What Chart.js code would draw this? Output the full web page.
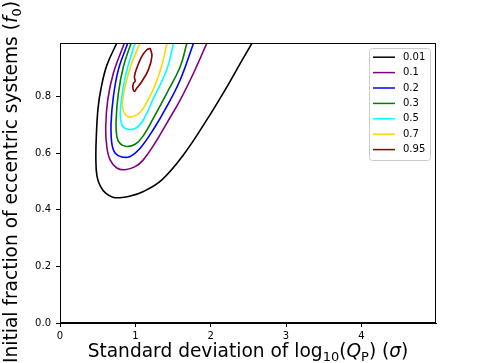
<!DOCTYPE html>
<html>
<head>
<meta charset="utf-8">
<script src="https://cdn.jsdelivr.net/npm/chart.js@4/dist/chart.umd.min.js"></script>
<style>
  html, body { margin: 0; padding: 0; background: #fff; }
</style>
</head>
<body>
<canvas id="chart" width="484" height="363"></canvas>
<script>
const levels = ['0.01', '0.1', '0.2', '0.3', '0.5', '0.7', '0.95'];
const colors = ['#000000', '#800080', '#0000ff', '#008000', '#00ffff', '#ffd700', '#8b0000'];

const xTicks = [0, 1, 2, 3, 4];
const yTicks = [0, 0.2, 0.4, 0.6, 0.8];

// contour lines
const c001X = [0.754, 0.62, 0.545, 0.505, 0.482, 0.476, 0.49, 0.535, 0.61, 0.70, 0.79, 0.908, 1.108, 1.352, 1.64, 1.95, 2.217, 2.394, 2.549];
const c001Y = [0.99, 0.91, 0.83, 0.76, 0.66, 0.58, 0.52, 0.484, 0.458, 0.445, 0.443, 0.447, 0.465, 0.506, 0.595, 0.719, 0.836, 0.919, 0.99];

const c01X = [0.855, 0.709, 0.634, 0.607, 0.621, 0.665, 0.754, 0.864, 0.997, 1.10, 1.241, 1.418, 1.596, 1.773, 1.95];
const c01Y = [0.99, 0.884, 0.789, 0.695, 0.624, 0.577, 0.548, 0.542, 0.553, 0.575, 0.628, 0.707, 0.789, 0.884, 0.99];

const c02X = [0.90, 0.775, 0.709, 0.678, 0.687, 0.731, 0.82, 0.931, 1.064, 1.241, 1.418, 1.596, 1.773];
const c02Y = [0.99, 0.896, 0.801, 0.707, 0.636, 0.601, 0.587, 0.589, 0.618, 0.685, 0.766, 0.86, 0.99];

const c03X = [0.944, 0.842, 0.775, 0.745, 0.754, 0.798, 0.887, 0.997, 1.10, 1.241, 1.418, 1.596, 1.684];
const c03Y = [0.99, 0.907, 0.813, 0.719, 0.659, 0.634, 0.624, 0.632, 0.66, 0.725, 0.813, 0.907, 0.99];

const c05X = [0.997, 0.90, 0.834, 0.80, 0.82, 0.887, 0.997, 1.10, 1.241, 1.418, 1.507];
const c05Y = [0.99, 0.907, 0.825, 0.742, 0.701, 0.686, 0.688, 0.715, 0.795, 0.896, 0.99];

const c07X = [1.064, 0.953, 0.864, 0.829, 0.855, 0.931, 1.064, 1.17, 1.26, 1.35, 1.42];
const c07Y = [0.99, 0.919, 0.836, 0.777, 0.742, 0.728, 0.745, 0.79, 0.84, 0.91, 0.99];

const c095X = [1.197, 1.22, 1.174, 1.086, 1.02, 0.988, 0.967, 0.975, 0.997, 0.988, 1.02, 1.086, 1.153, 1.197];
const c095Y = [0.972, 0.943, 0.896, 0.854, 0.831, 0.819, 0.831, 0.848, 0.854, 0.872, 0.902, 0.943, 0.966, 0.972];

const contourX = [c001X, c01X, c02X, c03X, c05X, c07X, c095X];
const contourY = [c001Y, c01Y, c02Y, c03Y, c05Y, c07Y, c095Y];

const FONT = "'DejaVu Sans', sans-serif";

function toPoints(xs, ys) {
  return xs.map((x, i) => ({ x: x, y: ys[i] }));
}

// draw a run of text pieces (some italic / subscript) centred on x
function drawRich(ctx, parts, x, y) {
  let total = 0;
  parts.forEach(p => {
    ctx.font = p.font;
    p.w = ctx.measureText(p.t).width;
    total += p.w;
  });
  let cx = x - total / 2;
  ctx.textAlign = 'left';
  ctx.textBaseline = 'alphabetic';
  parts.forEach(p => {
    ctx.font = p.font;
    ctx.fillText(p.t, cx, y + (p.dy || 0));
    cx += p.w;
  });
}

const decorations = {
  id: 'decorations',
  afterDraw(chart) {
    const ctx = chart.ctx;
    const a = chart.chartArea;
    ctx.save();

    // axes box
    ctx.strokeStyle = '#000';
    ctx.lineWidth = 1;
    ctx.strokeRect(a.left + 0.5, a.top + 0.5, a.right - a.left - 1, a.bottom - a.top - 1);

    ctx.fillStyle = '#000';
    const S = 18.6, s = 13;
    const n = S + 'px ' + FONT, it = 'italic ' + S + 'px ' + FONT, sub = s + 'px ' + FONT;

    // x title
    drawRich(ctx, [
      { t: 'Standard deviation of log', font: n },
      { t: '10', font: sub, dy: 4 },
      { t: '(', font: n },
      { t: 'Q', font: it },
      { t: 'P', font: sub, dy: 4 },
      { t: ') (', font: n },
      { t: 'σ', font: it },
      { t: ')', font: n }
    ], (a.left + a.right) / 2, 356.5);

    // y title
    ctx.save();
    ctx.translate(17, (a.top + a.bottom) / 2 - 1);
    ctx.rotate(-Math.PI / 2);
    drawRich(ctx, [
      { t: 'Initial fraction of eccentric systems (', font: n },
      { t: 'f', font: it },
      { t: '0', font: sub, dy: 4 },
      { t: ')', font: n }
    ], 0, 0);
    ctx.restore();

    // legend
    const lx = 369, ly = 48, lw = 61, lh = 112;
    ctx.beginPath();
    ctx.roundRect(lx + 0.5, ly + 0.5, lw, lh, 3);
    ctx.fillStyle = 'rgba(255,255,255,0.8)';
    ctx.fill();
    ctx.strokeStyle = '#cccccc';
    ctx.lineWidth = 1;
    ctx.stroke();
    ctx.font = '10px ' + FONT;
    ctx.textBaseline = 'middle';
    ctx.textAlign = 'left';
    chart.data.datasets.forEach((ds, i) => {
      const ry = 57.2 + i * 15.4;
      ctx.strokeStyle = ds.borderColor;
      ctx.lineWidth = 1.5;
      ctx.beginPath();
      ctx.moveTo(373, ry);
      ctx.lineTo(395, ry);
      ctx.stroke();
      ctx.fillStyle = '#000';
      ctx.fillText(ds.label, 403, ry);
    });

    ctx.restore();
  }
};

new Chart(document.getElementById('chart'), {
  type: 'scatter',
  data: {
    datasets: levels.map((lv, i) => ({
      label: lv,
      data: toPoints(contourX[i], contourY[i]),
      borderColor: colors[i],
      backgroundColor: colors[i],
      borderWidth: 1.6,
      pointRadius: 0,
      showLine: true,
      fill: false,
      tension: 0.4
    }))
  },
  options: {
    responsive: false,
    animation: false,
    layout: { padding: { left: 0, top: 43, right: 48, bottom: 0 } },
    plugins: {
      legend: { display: false },
      tooltip: { enabled: false }
    },
    scales: {
      x: {
        type: 'linear',
        min: 0,
        max: 4.99,
        afterBuildTicks: s => { s.ticks = xTicks.map(v => ({ value: v })); },
        afterFit: s => { s.height = 40; },
        ticks: {
          color: '#000',
          font: { family: FONT, size: 10 },
          padding: 3,
          maxRotation: 0,
          callback: v => String(v)
        },
        grid: { drawOnChartArea: false, drawTicks: true, tickLength: 4, tickColor: '#000' },
        border: { display: true, color: '#000', width: 1 }
      },
      y: {
        type: 'linear',
        min: 0,
        max: 0.99,
        afterBuildTicks: s => { s.ticks = yTicks.map(v => ({ value: v })); },
        afterFit: s => { s.width = 60; },
        ticks: {
          color: '#000',
          font: { family: FONT, size: 10 },
          padding: 5,
          callback: v => v.toFixed(1)
        },
        grid: { drawOnChartArea: false, drawTicks: true, tickLength: 4, tickColor: '#000' },
        border: { display: true, color: '#000', width: 1 }
      }
    }
  },
  plugins: [decorations]
});
</script>
</body>
</html>
